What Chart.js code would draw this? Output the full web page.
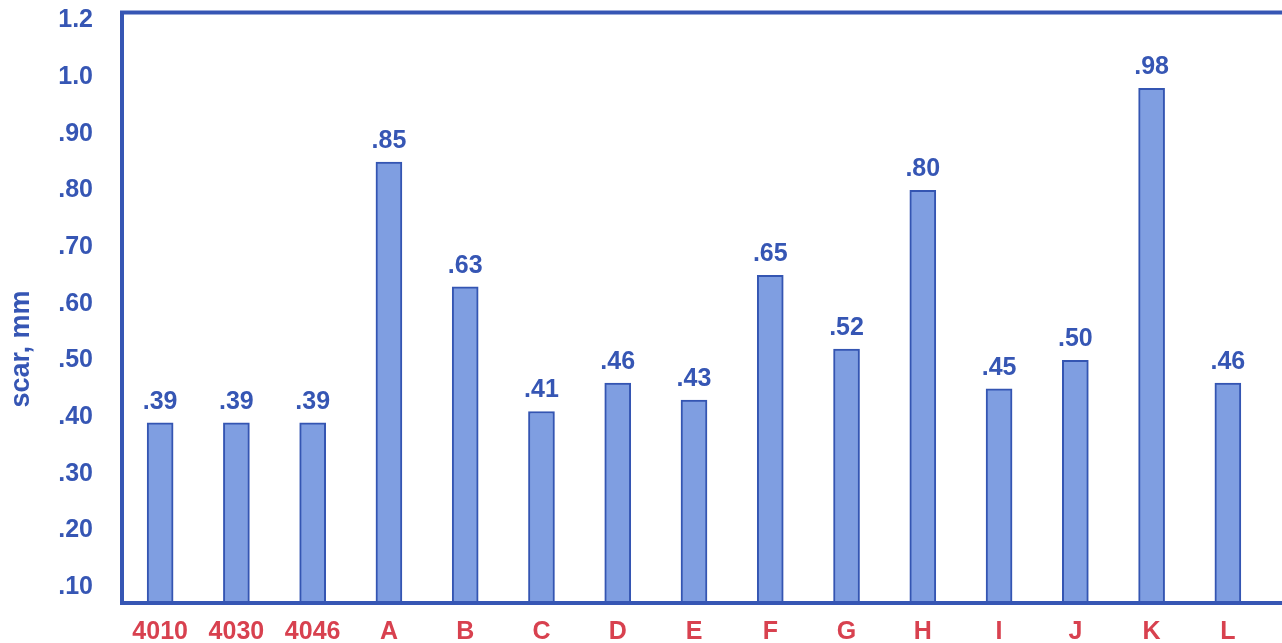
<!DOCTYPE html>
<html>
<head>
<meta charset="utf-8">
<script src="https://cdn.jsdelivr.net/npm/chart.js@4"></script>
<style>
  html, body { margin: 0; padding: 0; background: #fff; }
  #wrap { width: 1282px; height: 643px; }
</style>
</head>
<body>
<div id="wrap"><canvas id="scarChart" width="1282" height="643"></canvas></div>
<script>
'use strict';

// Chart data
const categories = ['4010', '4030', '4046', 'A', 'B', 'C', 'D', 'E', 'F', 'G', 'H', 'I', 'J', 'K', 'L'];
const scarValues = [0.39, 0.39, 0.39, 0.85, 0.63, 0.41, 0.46, 0.43, 0.65, 0.52, 0.80, 0.45, 0.50, 0.98, 0.46];
const tickValues = [0.1, 0.2, 0.3, 0.4, 0.5, 0.6, 0.7, 0.8, 0.9, 1.0, 1.1];
const tickLabels = ['.10', '.20', '.30', '.40', '.50', '.60', '.70', '.80', '.90', '1.0', '1.2'];

const BLUE = '#3656b4';
const RED = '#d8414f';
const FONT = 'Liberation Sans, Arial, sans-serif';

// Frame (top, left, bottom lines), value labels and y title
const framePlugin = {
    id: 'frame',
    afterDraw(chart) {
        const c = chart.ctx;
        const a = chart.chartArea;
        c.save();
        c.strokeStyle = BLUE;
        c.lineWidth = 4;
        c.beginPath();
        c.moveTo(chart.width, a.top);
        c.lineTo(a.left, a.top);
        c.lineTo(a.left, a.bottom);
        c.lineTo(chart.width, a.bottom);
        c.stroke();

        // value labels above bars
        c.fillStyle = BLUE;
        c.font = 'bold 25px ' + FONT;
        c.textAlign = 'center';
        c.textBaseline = 'alphabetic';
        chart.getDatasetMeta(0).data.forEach((bar, i) => {
            let txt = scarValues[i].toFixed(2).replace(/^0/, '');
            c.fillText(txt, bar.x, bar.y - 14);
        });

        // y axis title
        c.font = 'bold 27px ' + FONT;
        c.translate(22, 349);
        c.rotate(-Math.PI / 2);
        c.textBaseline = 'middle';
        c.fillText('scar, mm', 0, 0);
        c.restore();
    }
};

const ctx = document.getElementById('scarChart').getContext('2d');
const scarChart = new Chart(ctx, {
    type: 'bar',
    data: {
        labels: categories,
        datasets: [{
            data: scarValues,
            backgroundColor: '#7f9ee1',
            borderColor: '#3455b2',
            borderWidth: 2,
            barThickness: 26,
            borderSkipped: 'bottom'
        }]
    },
    options: {
        responsive: false,
        animation: false,
        layout: { padding: { top: 0, right: 16, left: 0, bottom: 0 } },
        plugins: {
            legend: { display: false },
            tooltip: { enabled: false }
        },
        scales: {
            x: {
                offset: true,
                grid: { display: true, drawOnChartArea: false, drawTicks: true, tickLength: 17, color: 'transparent' },
                border: { display: false },
                ticks: {
                    color: RED,
                    font: { family: FONT, size: 25, weight: 'bold', lineHeight: 1 },
                    padding: 0,
                    maxRotation: 0
                },
                afterFit: (scale) => { scale.height = 40; }
            },
            y: {
                min: 0.072,
                max: 1.114,
                afterBuildTicks: (scale) => {
                    scale.ticks = tickValues.map(v => ({ value: v }));
                },
                grid: { display: true, drawOnChartArea: false, drawTicks: true, tickLength: 29, color: 'transparent' },
                border: { display: false },
                ticks: {
                    color: BLUE,
                    font: { family: FONT, size: 25, weight: 'bold', lineHeight: 1 },
                    padding: 0,
                    callback: (value) => {
                        let idx = tickValues.findIndex(t => Math.abs(t - value) < 1e-6);
                        return idx >= 0 ? tickLabels[idx] : '';
                    }
                },
                afterFit: (scale) => { scale.width = 122; }
            }
        }
    },
    plugins: [framePlugin]
});
</script>
</body>
</html>
